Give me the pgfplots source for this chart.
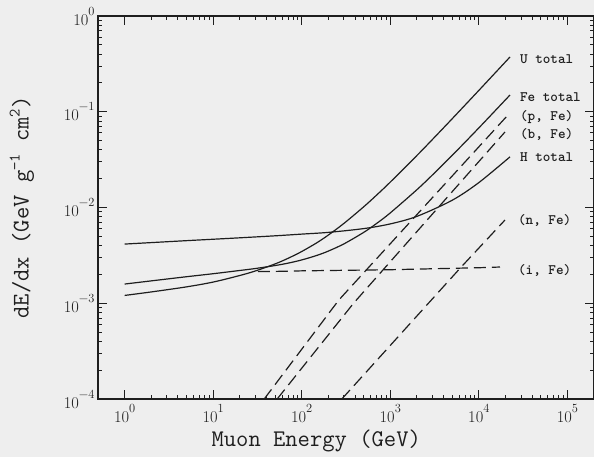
\documentclass[border=0pt]{standalone}
\usepackage{pgfplots}
\pgfplotsset{compat=1.18}
\usetikzlibrary{backgrounds}
\definecolor{bgc}{RGB}{238,238,238}
\definecolor{ink}{RGB}{30,30,30}
\newcommand{\tl}[1]{10\raisebox{10bp}{\fontsize{12.5}{13}\selectfont #1}}
\begin{document}
\begin{tikzpicture}
\begin{axis}[
  name=ax,
  xmode=log, ymode=log,
  scale only axis, width=496bp, height=383bp,
  xmin=0.5, xmax=2e5, ymin=1e-4, ymax=1,
  xtick={1,10,100,1000,10000,100000},
  xticklabels={\tl{0},\tl{1},\tl{2},\tl{3},\tl{4},\tl{5}},
  ytick={1e-4,1e-3,1e-2,1e-1,1},
  yticklabels={\tl{−4},\tl{−3},\tl{−2},\tl{−1},\tl{0}},
  axis line style={ink, line width=1.2bp},
  every tick/.style={ink, line width=1bp},
  major tick length=9bp, minor tick length=4.5bp,
  tick label style={font=\fontsize{16.5}{20}\selectfont, text=ink},
  xticklabel style={yshift=-2bp},
  xlabel={Muon Energy (GeV)},
  ylabel={dE/dx (GeV g\raisebox{9bp}{\fontsize{16}{16}\selectfont −1} cm\raisebox{9bp}{\fontsize{16}{16}\selectfont 2})},
  label style={font=\ttfamily\fontsize{24}{28}\selectfont, text=ink},
  xlabel style={at={(axis description cs:0.44,-0.081)}, anchor=north, inner sep=0pt},
  ylabel style={at={(axis description cs:-0.1532,0.5)}, anchor=center, inner sep=0pt},
]
% H total
\addplot[ink, line width=1.2bp, smooth] coordinates {
(1,4.151e-3) (2,4.30e-3) (5,4.506e-3) (10,4.662e-3) (20,4.825e-3) (50,5.062e-3)
(100,5.274e-3) (200,5.498e-3) (500,6.02e-3) (1000,6.74e-3) (2000,8.08e-3)
(5000,1.19e-2) (10000,1.82e-2) (22500,3.38e-2)};
% Fe total
\addplot[ink, line width=1.2bp, smooth] coordinates {
(1,1.587e-3) (2,1.713e-3) (5,1.893e-3) (10,2.035e-3) (20,2.20e-3) (30,2.306e-3)
(50,2.477e-3) (70,2.623e-3) (100,2.834e-3) (150,3.171e-3) (200,3.508e-3)
(300,4.172e-3) (500,5.49e-3) (700,6.808e-3) (1000,8.78e-3) (2000,1.535e-2)
(3000,2.191e-2) (5000,3.501e-2) (10000,6.775e-2) (22500,0.1496)};
% U total
\addplot[ink, line width=1.2bp, smooth] coordinates {
(1,1.207e-3) (2,1.313e-3) (5,1.483e-3) (10,1.665e-3) (20,1.95e-3) (30,2.175e-3)
(50,2.575e-3) (70,2.945e-3) (100,3.47e-3) (150,4.315e-3) (200,5.16e-3)
(300,6.83e-3) (500,1.015e-2) (700,1.346e-2) (1000,1.842e-2) (2000,3.494e-2)
(3000,5.145e-2) (5000,8.446e-2) (10000,0.16698) (22500,0.3733)};
% (i, Fe)
\addplot[ink, line width=1.2bp, dash pattern=on 12bp off 6bp] coordinates {
(32,2.14e-3) (50,2.15e-3) (100,2.18e-3) (1000,2.24e-3) (10000,2.35e-3) (17350,2.39e-3)};
% (p, Fe)
\addplot[ink, line width=1.2bp, dash pattern=on 12bp off 6bp] coordinates {
(37.7,1e-4) (262.4,1.081e-3) (21340,0.0925)};
% (b, Fe)
\addplot[ink, line width=1.2bp, dash pattern=on 12bp off 6bp] coordinates {
(52.8,1e-4) (386.9,1.006e-3) (19750,0.06144)};
% (n, Fe)
\addplot[ink, line width=1.2bp, dash pattern=on 12bp off 6bp] coordinates {
(283.7,1e-4) (6327,2.391e-3) (19750,7.40e-3)};
\begin{scope}[every node/.style={anchor=west, inner sep=0pt, text=ink, font=\ttfamily\bfseries\fontsize{14.5}{17}\selectfont}]
\node at (axis cs:29130,0.3556) {U total};
\node at (axis cs:29130,0.1426) {Fe total};
\node at (axis cs:29130,0.0881) {(p, Fe)};
\node at (axis cs:29130,0.05855) {(b, Fe)};
\node at (axis cs:29130,0.03368) {H total};
\node at (axis cs:27660,0.0074) {(n, Fe)};
\node at (axis cs:27660,0.002225) {(i, Fe)};
\end{scope}
\end{axis}
\pgfresetboundingbox
\path[use as bounding box] ([xshift=-98bp,yshift=-58bp]ax.south west) rectangle ([yshift=16bp]ax.north east);
\begin{pgfonlayer}{background}
\fill[bgc] ([xshift=-98bp,yshift=-58bp]ax.south west) rectangle ([yshift=16bp]ax.north east);
\end{pgfonlayer}
\end{tikzpicture}
\end{document}
